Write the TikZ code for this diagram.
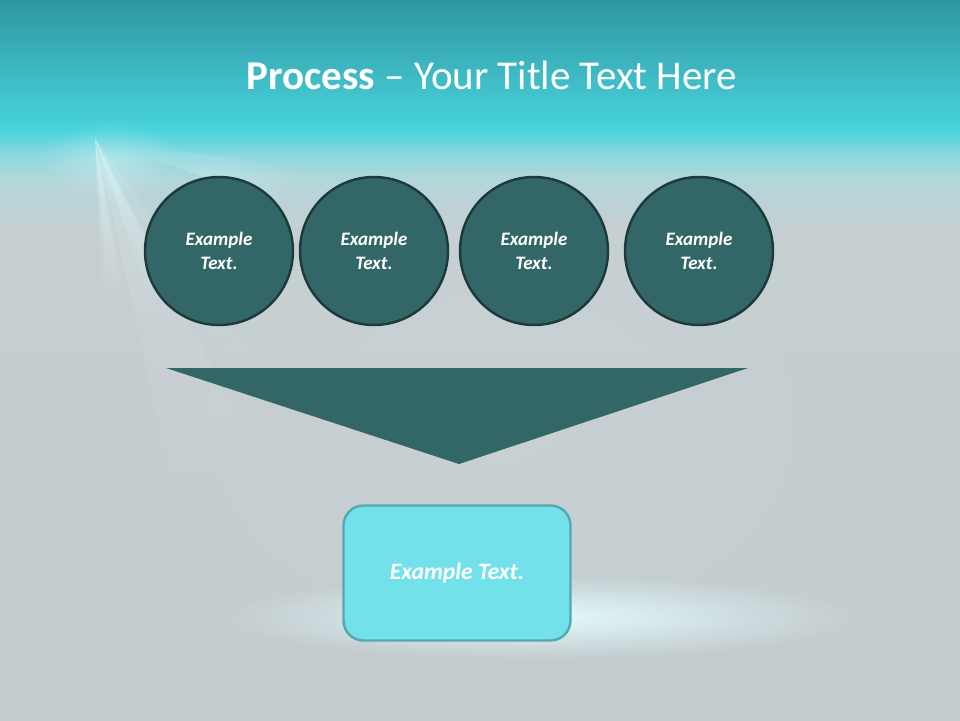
\documentclass[tikz,border=0pt]{standalone}
\usepackage{fontspec}
\setmainfont{Carlito}
\usetikzlibrary{fadings}
\definecolor{bgtop}{HTML}{2E969D}
\definecolor{bgmid}{HTML}{3CB3BD}
\definecolor{bgcyan}{HTML}{48D3DD}
\definecolor{bglight}{HTML}{8DD9DF}
\definecolor{bgpale}{HTML}{B3D6DA}
\definecolor{bggray}{HTML}{C5CED1}
\definecolor{bgbot}{HTML}{C4CCCF}
\definecolor{circfill}{HTML}{336666}
\definecolor{circline}{HTML}{1C3A3A}
\definecolor{boxfill}{HTML}{72E1EA}
\definecolor{boxline}{HTML}{55A8B0}
\definecolor{glowc}{HTML}{E2FAFC}
\definecolor{raytint}{HTML}{E8FBFC}
\tikzfading[name=glowfade, inner color=transparent!0, outer color=transparent!100]
\tikzfading[name=rayfade, top color=transparent!0, bottom color=transparent!100]
\tikzset{
  stepcirc/.style={circle, minimum size=148pt, inner sep=0pt, fill=circfill, draw=circline, line width=2.4pt, text=white, font=\fontsize{19}{24}\selectfont\bfseries\itshape, align=center},
  outbox/.style={rectangle, rounded corners=20pt, minimum width=227pt, minimum height=135pt, fill=boxfill, draw=boxline, line width=2.4pt, text=white, font=\fontsize{23.5}{28}\selectfont\bfseries\itshape},
  ray/.style={fill=raytint, path fading=rayfade}
}
\begin{document}
\begin{tikzpicture}[x=1pt,y=-1pt]
\useasboundingbox (0,0) rectangle (960,720);
% background
\shade[top color=bgtop, bottom color=bgmid] (0,-1) rectangle (960,60.5);
\shade[top color=bgmid, bottom color=bgcyan] (0,60) rectangle (960,130.5);
\shade[top color=bgcyan, bottom color=bglight] (0,130) rectangle (960,155.5);
\shade[top color=bglight, bottom color=bgpale] (0,155) rectangle (960,180.5);
\shade[top color=bgpale, bottom color=bggray] (0,180) rectangle (960,230.5);
\shade[top color=bggray, bottom color=bgbot] (0,230) rectangle (960,721);
\fill[white, opacity=0.07, path fading=glowfade] (500,420) ellipse (420 and 300);
% light rays
\fill[raytint, opacity=0.35, path fading=glowfade] (110,160) ellipse (70 and 40);
\fill[ray, opacity=0.4] (95,138) -- (108,300) -- (124,300) -- cycle;
\fill[ray, opacity=0.28] (95,138) -- (103,320) -- (134,320) -- cycle;
\fill[ray, opacity=0.35] (95,138) -- (150,300) -- (172,300) -- cycle;
\fill[ray, opacity=0.2] (95,138) -- (140,340) -- (200,340) -- cycle;
\fill[ray, opacity=0.16] (95,138) -- (180,520) -- (290,520) -- cycle;
\fill[ray, opacity=0.14] (95,138) -- (230,430) -- (300,420) -- cycle;
\fill[raytint, opacity=0.25, path fading=glowfade] (95,138) -- (310,170) -- (310,215) -- cycle;
% glow under the box
\fill[glowc, path fading=glowfade] (540,617) ellipse (320 and 42);
% title
\node (title) at (492,75) {\fontsize{41}{49}\selectfont\color{white}\textbf{Process} – Your Title Text Here};
% circles
\node[stepcirc] (c1) at (219,251) {Example\\Text.};
\node[stepcirc] (c2) at (374,251) {Example\\Text.};
\node[stepcirc] (c3) at (534,251) {Example\\Text.};
\node[stepcirc] (c4) at (699,251) {Example\\Text.};
% funnel triangle
\coordinate (tl) at (166,368);
\coordinate (tr) at (748,368);
\coordinate (tb) at (459,464);
\fill[circfill] (tl) -- (tr) -- (tb) -- cycle;
% result box
\node[outbox] (box) at (457,573) {Example Text.};
\end{tikzpicture}
\end{document}
